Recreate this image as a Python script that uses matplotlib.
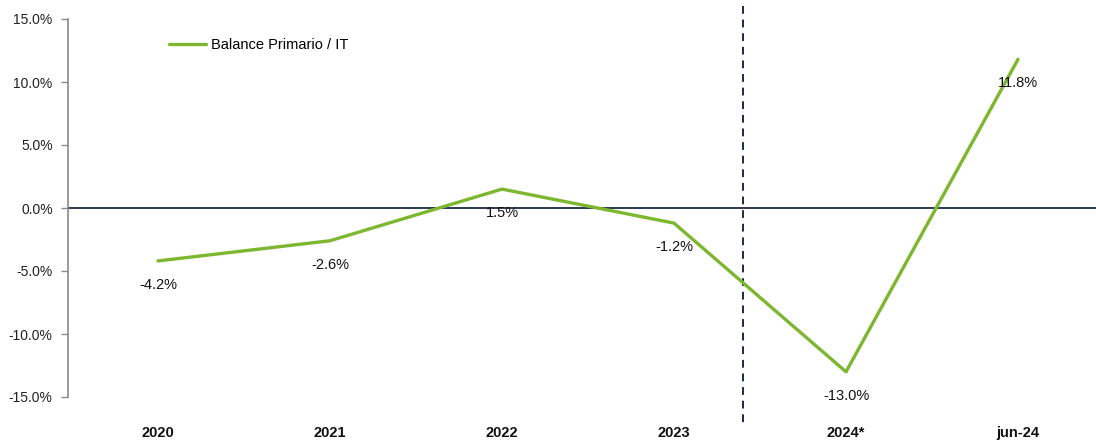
import matplotlib
matplotlib.use("Agg")
import matplotlib.pyplot as plt

categories = ["2020", "2021", "2022", "2023", "2024*", "jun-24"]
values = [-4.2, -2.6, 1.5, -1.2, -13.0, 11.8]
labels = ["-4.2%", "-2.6%", "1.5%", "-1.2%", "-13.0%", "11.8%"]
yticks = [-15, -10, -5, 0, 5, 10, 15]
series_name = "Balance Primario / IT"

plt.rcParams['font.family'] = ['Liberation Sans', 'DejaVu Sans']

W, H = 1096, 444
fig = plt.figure(figsize=(W / 100, H / 100), dpi=100)
ax = fig.add_axes([68 / W, 1 - 397 / H, (1096 - 68) / W, (397 - 19) / H])

green = '#7DB72F'
navy = '#1B2A47'
x = list(range(len(categories)))
ax.plot(x, values, color=green, lw=2.4, solid_capstyle='round', zorder=3,
        label=series_name)
ax.axhline(0, color=navy, lw=1.3, zorder=2)

for xi, v, t in zip(x, values, labels):
    ax.annotate(t, (xi, v), xytext=(0, -24), textcoords='offset pixels',
                ha='center', va='center', fontsize=10.5, color='#111111', zorder=4)

ax.set_xlim((68 - 158) / 172, (1096 - 158) / 172)
ax.set_ylim(-15, 15)
ax.set_yticks(yticks)
ax.set_yticklabels([f"{t:.1f}%" for t in yticks], fontsize=10, color='#222222')
ax.set_xticks(x)
ax.set_xticklabels(categories, fontsize=10.5, fontweight='bold', color='#111111')
ax.tick_params(axis='x', length=0, pad=21)
ax.tick_params(axis='y', length=5, color='#8a8a8a', width=1, pad=6)
for s in ['top', 'right', 'bottom']:
    ax.spines[s].set_visible(False)
ax.spines['left'].set_color('#8a8a8a')
ax.spines['left'].set_linewidth(1.2)

# dashed separator (extends beyond axes)
xd = 3.40
ax.plot([xd, xd], [16.0, -17.2], color=navy, lw=1.4, ls=(0, (4, 3)),
        clip_on=False, zorder=2)

leg = ax.legend(loc='upper left', bbox_to_anchor=(0.085, 0.985), frameon=False,
                fontsize=10.5, handlelength=2.6, handletextpad=0.3)

fig.savefig("out.png", dpi=100)
